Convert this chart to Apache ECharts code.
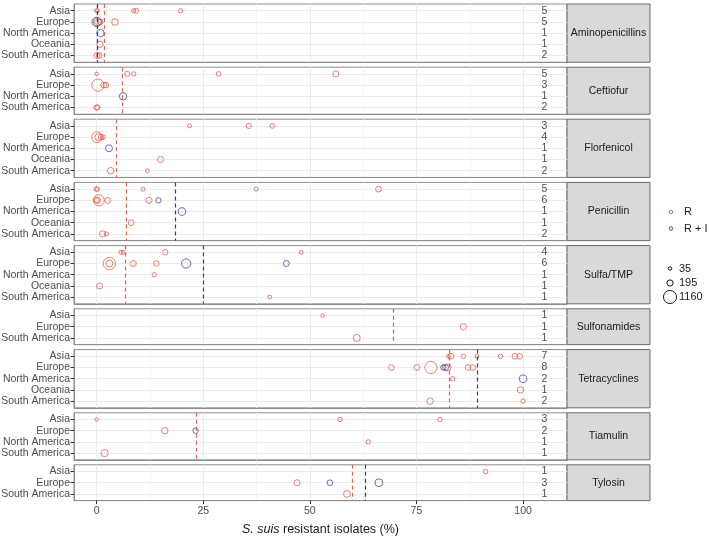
<!DOCTYPE html>
<html><head><meta charset="utf-8">
<script src="https://cdn.jsdelivr.net/npm/echarts@6/dist/echarts.min.js"></script>
<style>html,body{margin:0;padding:0;background:#fff}#c{width:709px;height:540px}</style>
</head><body><div id="c"></div>
<script>
// ---------- DATA ----------
const panels = ['Aminopenicillins','Ceftiofur','Florfenicol','Penicillin','Sulfa/TMP','Sulfonamides','Tetracyclines','Tiamulin','Tylosin'];
const panelRegions = [
  ['Asia','Europe','North America','Oceania','South America'],
  ['Asia','Europe','North America','South America'],
  ['Asia','Europe','North America','Oceania','South America'],
  ['Asia','Europe','North America','Oceania','South America'],
  ['Asia','Europe','North America','Oceania','South America'],
  ['Asia','Europe','South America'],
  ['Asia','Europe','North America','Oceania','South America'],
  ['Asia','Europe','North America','South America'],
  ['Asia','Europe','South America']
];
const studyCounts = [[5,5,1,1,2],[5,3,1,2],[3,4,1,1,2],[5,6,1,1,2],[4,6,1,1,1],[1,1,1],[7,8,2,1,2],[3,2,1,1],[1,3,1]];
const medianR  = [1.8, 5.9, 4.7, 6.9, 6.7, 69.6, 82.7, 23.4, 60];
const medianRI = [0.2, null, null, 18.5, 25, null, 89.3, null, 63];
const xTickValues = [0, 25, 50, 75, 100];
const xMinorValues = [12.5, 37.5, 62.5, 87.5];
const sizeLegendValues = [35, 195, 1160];
// [antibiotic, region, % resistant, isolates]
const pointsR = [
  ['Aminopenicillins','Asia',0,60],['Aminopenicillins','Asia',0.2,45],['Aminopenicillins','Asia',8.7,60],['Aminopenicillins','Asia',9.3,110],['Aminopenicillins','Asia',19.7,70],
  ['Aminopenicillins','Europe',0.2,420],['Aminopenicillins','Europe',0,90],['Aminopenicillins','Europe',0.8,150],['Aminopenicillins','Europe',4.3,195],
  ['Aminopenicillins','Oceania',0.8,200],
  ['Aminopenicillins','South America',0.1,170],['Aminopenicillins','South America',0.6,150],
  ['Ceftiofur','Asia',0,35],['Ceftiofur','Asia',7.2,120],['Ceftiofur','Asia',8.7,70],['Ceftiofur','Asia',28.6,90],['Ceftiofur','Asia',56.1,180],
  ['Ceftiofur','Europe',0.3,1000],['Ceftiofur','Europe',1.7,160],['Ceftiofur','Europe',2.2,140],
  ['Ceftiofur','South America',0,130],['Ceftiofur','South America',0.2,110],
  ['Florfenicol','Asia',21.8,50],['Florfenicol','Asia',35.7,110],['Florfenicol','Asia',41.2,90],
  ['Florfenicol','Europe',0.1,750],['Florfenicol','Europe',0.4,260],['Florfenicol','Europe',1.0,120],['Florfenicol','Europe',1.5,90],
  ['Florfenicol','Oceania',15,180],
  ['Florfenicol','South America',3.3,220],['Florfenicol','South America',11.9,50],
  ['Penicillin','Asia',0,90],['Penicillin','Asia',0.1,70],['Penicillin','Asia',10.9,60],['Penicillin','Asia',37.4,50],['Penicillin','Asia',66.1,160],
  ['Penicillin','Europe',0.5,800],['Penicillin','Europe',0.2,200],['Penicillin','Europe',0,100],['Penicillin','Europe',2.6,180],['Penicillin','Europe',12.3,190],
  ['Penicillin','Oceania',8.1,160],
  ['Penicillin','South America',1.4,200],['Penicillin','South America',2.3,60],
  ['Sulfa/TMP','Asia',5.7,60],['Sulfa/TMP','Asia',6.2,50],['Sulfa/TMP','Asia',16.1,130],['Sulfa/TMP','Asia',48,40],
  ['Sulfa/TMP','Europe',3.0,1000],['Sulfa/TMP','Europe',3.0,250],['Sulfa/TMP','Europe',8.6,180],['Sulfa/TMP','Europe',14,150],
  ['Sulfa/TMP','North America',13.5,70],
  ['Sulfa/TMP','Oceania',0.7,180],
  ['Sulfa/TMP','South America',40.6,40],
  ['Sulfonamides','Asia',53,35],['Sulfonamides','Europe',86,200],['Sulfonamides','South America',61,250],
  ['Tetracyclines','Asia',82.5,40],['Tetracyclines','Asia',83.1,150],['Tetracyclines','Asia',86,80],['Tetracyclines','Asia',89.2,40],['Tetracyclines','Asia',94.7,80],['Tetracyclines','Asia',98.1,150],['Tetracyclines','Asia',99.2,150],
  ['Tetracyclines','Europe',69.1,150],['Tetracyclines','Europe',75.1,150],['Tetracyclines','Europe',78.4,1000],['Tetracyclines','Europe',82.3,260],['Tetracyclines','Europe',87.1,150],['Tetracyclines','Europe',88.2,150],
  ['Tetracyclines','North America',83.5,70],
  ['Tetracyclines','Oceania',99.4,200],
  ['Tetracyclines','South America',78.2,220],['Tetracyclines','South America',100,70],
  ['Tiamulin','Asia',0,35],['Tiamulin','Asia',57.1,70],['Tiamulin','Asia',80.5,70],
  ['Tiamulin','Europe',16,200],
  ['Tiamulin','North America',63.7,70],
  ['Tiamulin','South America',1.9,280],
  ['Tylosin','Asia',91.2,80],['Tylosin','Europe',47,180],['Tylosin','South America',58.7,250]
];
const pointsRI = [
  ['Aminopenicillins','Europe',0,520],['Aminopenicillins','North America',0.9,300],
  ['Ceftiofur','North America',6.2,300],
  ['Florfenicol','North America',2.9,260],
  ['Penicillin','Europe',14.5,130],['Penicillin','North America',20,330],
  ['Sulfa/TMP','Europe',21,520],['Sulfa/TMP','Europe',44.5,180],
  ['Tetracyclines','Europe',81.3,130],['Tetracyclines','Europe',81.8,180],['Tetracyclines','North America',100,330],
  ['Tiamulin','Europe',23.2,130],
  ['Tylosin','Europe',54.7,150],['Tylosin','Europe',66.2,350]
];

// ---------- STYLE / LAYOUT ----------
const FONT = '"Liberation Sans", Arial, Helvetica, sans-serif';
const RED = '#E4604E', BLUE = '#3E4E9E', BLUELINE = '#2E3B91';
const BORDER = '#8C8C8C';
const X_MIN = -5.3, X_MAX = 110.3, COUNT_X = 105;
const PLOT_LEFT = 74, PLOT_RIGHT = 567, STRIP_RIGHT = 650, TOP0 = 4, UNIT = 11.2, GAP = 4.96;
const sizeOf = n => 1.5 + 0.34 * Math.sqrt(n);

const chart = echarts.init(document.getElementById('c'), null, {renderer: 'canvas'});
const grids = [], xAxes = [], yAxes = [], series = [], graphics = [];
let panelTop = TOP0;
panels.forEach((ab, i) => {
  const regs = panelRegions[i];
  const h = (regs.length + 0.2) * UNIT;
  const last = i === panels.length - 1;
  const idx = regs.map((_, k) => k);
  grids.push({left: PLOT_LEFT, top: panelTop, width: PLOT_RIGHT - PLOT_LEFT, height: h,
    show: true, borderColor: BORDER, borderWidth: 1, backgroundColor: 'transparent', outerBoundsMode: 'none', containLabel: false});
  xAxes.push({type: 'value', gridIndex: i, position: 'bottom', min: X_MIN, max: X_MAX,
    axisLine: {show: true, onZero: false, lineStyle: {color: BORDER, width: 1}},
    axisTick: {show: last, customValues: xTickValues, length: 3.5, lineStyle: {color: '#333', width: 1}},
    axisLabel: {show: last, customValues: xTickValues, color: '#4D4D4D', fontSize: 10.5, fontFamily: FONT, margin: 5},
    splitLine: {show: true, lineStyle: {color: '#EBEBEB', width: 1}},
    name: last ? '{i|S. suis} resistant isolates (%)' : '', nameLocation: 'middle', nameGap: 22,
    nameTextStyle: {fontSize: 12.5, color: '#1A1A1A', fontFamily: FONT,
      rich: {i: {fontStyle: 'italic', fontSize: 12.5, color: '#1A1A1A', fontFamily: FONT}}}
  });
  xAxes.push({type: 'value', gridIndex: i, position: 'top', min: X_MIN, max: X_MAX,
    axisLine: {show: false, onZero: false}, axisTick: {show: false, customValues: xMinorValues},
    axisLabel: {show: false, customValues: xMinorValues},
    splitLine: {show: true, lineStyle: {color: '#F4F4F4', width: 1}}
  });
  yAxes.push({type: 'value', gridIndex: i, position: 'left', inverse: true, min: -0.6, max: regs.length - 0.4,
    axisLine: {show: true, onZero: false, lineStyle: {color: BORDER, width: 1}},
    axisTick: {show: true, customValues: idx, length: 3.5, lineStyle: {color: '#333', width: 1}},
    axisLabel: {customValues: idx, formatter: v => regs[Math.round(v)], color: '#4D4D4D', fontSize: 10.5, fontFamily: FONT, margin: 4},
    splitLine: {show: true, lineStyle: {color: '#EBEBEB', width: 1}}
  });
  const mk = (val, color) => val == null ? undefined : {
    silent: true, symbol: ['none', 'none'], label: {show: false}, animation: false,
    lineStyle: {color: color, type: [4, 3], width: 1.2}, emphasis: {disabled: true},
    data: [{xAxis: val}]
  };
  series.push({type: 'scatter', name: 'R', xAxisIndex: 2 * i, yAxisIndex: i, silent: true, z: 3,
    data: pointsR.filter(p => p[0] === ab).map(p => [p[2], regs.indexOf(p[1]), p[3]]),
    symbolSize: d => sizeOf(d[2]),
    itemStyle: {color: 'rgba(0,0,0,0)', borderColor: RED, borderWidth: 1},
    markLine: mk(medianR[i], RED)
  });
  series.push({type: 'scatter', name: 'R + I', xAxisIndex: 2 * i, yAxisIndex: i, silent: true, z: 4,
    data: pointsRI.filter(p => p[0] === ab).map(p => [p[2], regs.indexOf(p[1]), p[3]]),
    symbolSize: d => sizeOf(d[2]),
    itemStyle: {color: 'rgba(0,0,0,0)', borderColor: BLUE, borderWidth: 1},
    markLine: mk(medianRI[i], BLUELINE)
  });
  series.push({type: 'scatter', name: 'n', xAxisIndex: 2 * i, yAxisIndex: i, silent: true, z: 5,
    data: studyCounts[i].map((c, k) => [COUNT_X, k, c]),
    symbolSize: 1, itemStyle: {color: 'rgba(0,0,0,0)'},
    label: {show: true, position: 'inside', formatter: p => String(p.data[2]), color: '#1A1A1A', fontSize: 10.5, fontFamily: FONT}
  });
  graphics.push({type: 'rect', silent: true, shape: {x: PLOT_RIGHT, y: panelTop, width: STRIP_RIGHT - PLOT_RIGHT, height: h},
    style: {fill: '#D9D9D9', stroke: '#6B6B6B', lineWidth: 1}});
  graphics.push({type: 'text', silent: true, x: (PLOT_RIGHT + STRIP_RIGHT) / 2, y: panelTop + h / 2,
    style: {text: ab, align: 'center', verticalAlign: 'middle', fontSize: 10.5, fontFamily: FONT, fill: '#1A1A1A'}});
  panelTop += h + GAP;
});

const LX = 671, LTX = 681;
graphics.push({type: 'circle', silent: true, shape: {cx: LX, cy: 212, r: sizeOf(35) / 2}, style: {fill: 'none', stroke: RED, lineWidth: 1}});
graphics.push({type: 'text', silent: true, x: LTX + 3, y: 212, style: {text: 'R', verticalAlign: 'middle', fontSize: 11, fontFamily: FONT, fill: '#1A1A1A'}});
graphics.push({type: 'circle', silent: true, shape: {cx: LX, cy: 228.5, r: sizeOf(35) / 2}, style: {fill: 'none', stroke: BLUE, lineWidth: 1}});
graphics.push({type: 'text', silent: true, x: LTX + 3, y: 228.5, style: {text: 'R + I', verticalAlign: 'middle', fontSize: 11, fontFamily: FONT, fill: '#1A1A1A'}});
const sizeYs = [268.5, 283, 297];
sizeLegendValues.forEach((v, k) => {
  graphics.push({type: 'circle', silent: true, shape: {cx: LX - 1, cy: sizeYs[k], r: sizeOf(v) / 2}, style: {fill: 'none', stroke: '#1A1A1A', lineWidth: 1}});
  graphics.push({type: 'text', silent: true, x: LTX - 2, y: sizeYs[k], style: {text: String(v), verticalAlign: 'middle', fontSize: 11, fontFamily: FONT, fill: '#1A1A1A'}});
});

chart.setOption({
  animation: false,
  backgroundColor: '#FFFFFF',
  textStyle: {fontFamily: FONT},
  grid: grids, xAxis: xAxes, yAxis: yAxes, series: series, graphic: graphics
});
</script></body></html>
